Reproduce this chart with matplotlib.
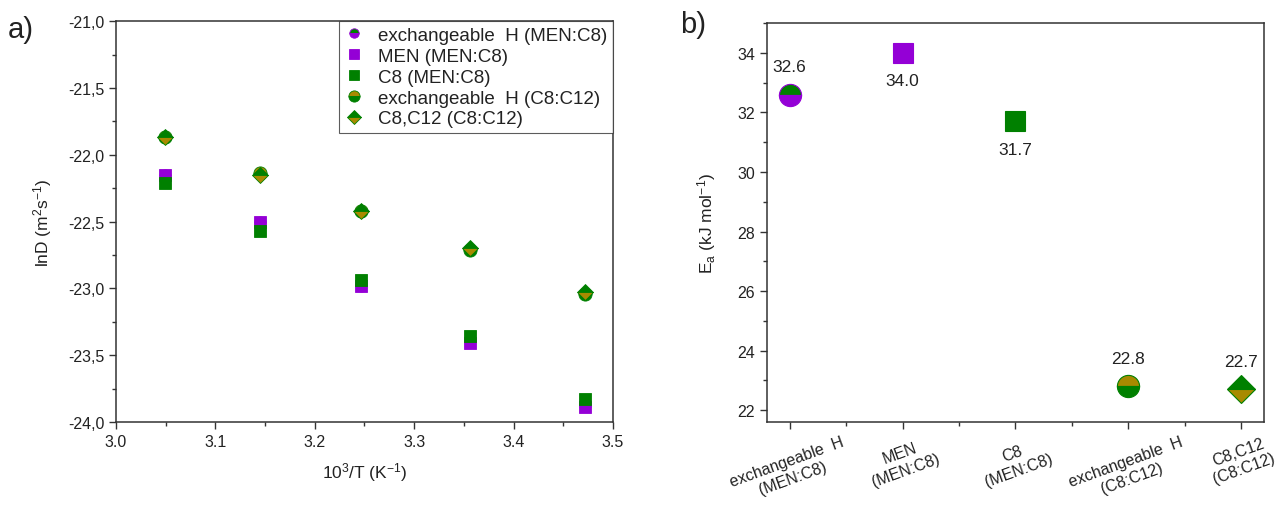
import numpy as np
from matplotlib import pyplot as plt
from matplotlib.ticker import MultipleLocator, FuncFormatter

plt.rcParams['font.family'] = ['Liberation Sans', 'DejaVu Sans']
plt.rcParams['mathtext.default'] = 'regular'

PURPLE = '#9400d6'
GREEN = '#008000'
OLIVE = '#a88a00'
TEXT = '#222222'

# ln D against 10^3/T for each signal
inv_T = [3.049, 3.145, 3.247, 3.356, 3.472]
lnD_exH_men_c8 = [-22.15, -22.50, -22.98, -23.40, -23.88]
lnD_men = [-22.15, -22.50, -22.98, -23.41, -23.89]
lnD_c8 = [-22.21, -22.57, -22.94, -23.36, -23.83]
lnD_exH_c8_c12 = [-21.87, -22.14, -22.42, -22.71, -23.04]
lnD_c8_c12 = [-21.87, -22.15, -22.42, -22.70, -23.03]

# activation energies from the Arrhenius fits
ea_names = ['exchangeable  H\n(MEN:C8)', 'MEN\n(MEN:C8)', 'C8\n(MEN:C8)',
            'exchangeable  H\n(C8:C12)', 'C8,C12\n(C8:C12)']
ea_values = [32.6, 34.0, 31.7, 22.8, 22.7]
ea_label_side = [1, -1, -1, 1, 1]

# marker style per series: (marker, face, alt face)
styles = [('o', GREEN, PURPLE), ('s', PURPLE, None), ('s', GREEN, None),
          ('o', OLIVE, GREEN), ('D', GREEN, OLIVE)]
edges = [PURPLE, PURPLE, GREEN, GREEN, GREEN]


def style_axes(ax):
    for s in ax.spines.values():
        s.set_linewidth(1.1)
        s.set_color('#333333')
    ax.tick_params(which='both', direction='out', top=False, right=False,
                   width=1.0, color='#333333', labelcolor=TEXT, labelsize=11.5)
    ax.tick_params(which='major', length=5)
    ax.tick_params(which='minor', length=3)


fig = plt.figure(figsize=(12.8, 5.1), dpi=100)
ax1 = fig.add_axes([0.0906, 0.1706, 0.3883, 0.786])
ax2 = fig.add_axes([0.5992, 0.1706, 0.3883, 0.782])

# a) Arrhenius plot
series = [lnD_exH_men_c8, lnD_men, lnD_c8, lnD_exH_c8_c12, lnD_c8_c12]
names = ['exchangeable  H (MEN:C8)', 'MEN (MEN:C8)', 'C8 (MEN:C8)',
         'exchangeable  H (C8:C12)', 'C8,C12 (C8:C12)']
sizes_a = [8, 8, 8, 9.5, 8]
for i in range(len(series)):
    m, fc, alt = styles[i]
    kw = dict(fillstyle='top', markerfacecoloralt=alt) if alt else {}
    ax1.plot(inv_T, series[i], linestyle='none', marker=m, markersize=sizes_a[i],
             markerfacecolor=fc, markeredgecolor=edges[i], markeredgewidth=0.6,
             label=names[i], **kw)

ax1.set_xlim(3.0, 3.5)
ax1.set_ylim(-24.0, -21.0)
ax1.xaxis.set_major_locator(MultipleLocator(0.1))
ax1.xaxis.set_minor_locator(MultipleLocator(0.05))
ax1.yaxis.set_major_locator(MultipleLocator(0.5))
ax1.yaxis.set_minor_locator(MultipleLocator(0.25))
ax1.yaxis.set_major_formatter(FuncFormatter(lambda v, p: ('%.1f' % v).replace('.', ',')))
ax1.set_xlabel(r'10$^3$/T (K$^{-1}$)', fontsize=12.5, color=TEXT, labelpad=8)
ax1.set_ylabel(r'lnD (m$^2$s$^{-1}$)', fontsize=12.5, color=TEXT, labelpad=10)
style_axes(ax1)
leg = ax1.legend(loc='upper right', bbox_to_anchor=(1.0, 1.0), borderaxespad=0,
                 fontsize=13.5, frameon=True, fancybox=False, handlelength=1.0,
                 handletextpad=0.8, labelspacing=0.2, borderpad=0.3,
                 markerscale=0.85)
leg.get_frame().set_edgecolor('#333333')
leg.get_frame().set_linewidth(0.8)
for t in leg.get_texts():
    t.set_color(TEXT)

# b) activation energies
x = np.arange(len(ea_values))
sizes_b = [16, 14, 14, 16, 14.5]
for i in range(len(ea_values)):
    m, fc, alt = styles[i]
    kw = dict(fillstyle='top', markerfacecoloralt=alt) if alt else {}
    ax2.plot(x[i], ea_values[i], linestyle='none', marker=m, markersize=sizes_b[i],
             markerfacecolor=fc, markeredgecolor=edges[i], markeredgewidth=0.8, **kw)
    ax2.annotate('%.1f' % ea_values[i], (x[i], ea_values[i]),
                 xytext=(0, 20 * ea_label_side[i]), textcoords='offset points',
                 ha='center', va='center', fontsize=12.5, color=TEXT)

ax2.set_xlim(-0.2, 4.2)
ax2.set_ylim(21.6, 35.0)
ax2.set_xticks(x)
ax2.set_xticklabels(ea_names, rotation=20, ha='center', va='top', multialignment='center')
ax2.xaxis.set_minor_locator(MultipleLocator(0.5))
ax2.yaxis.set_major_locator(MultipleLocator(2))
ax2.yaxis.set_minor_locator(MultipleLocator(1))
ax2.set_ylabel(r'E$_a$ (kJ mol$^{-1}$)', fontsize=12.5, color=TEXT, labelpad=14)
style_axes(ax2)

fig.text(0.006, 0.925, 'a)', fontsize=21, color=TEXT)
fig.text(0.531, 0.935, 'b)', fontsize=21, color=TEXT)

plt.savefig('out.png', dpi=100, facecolor='white')
